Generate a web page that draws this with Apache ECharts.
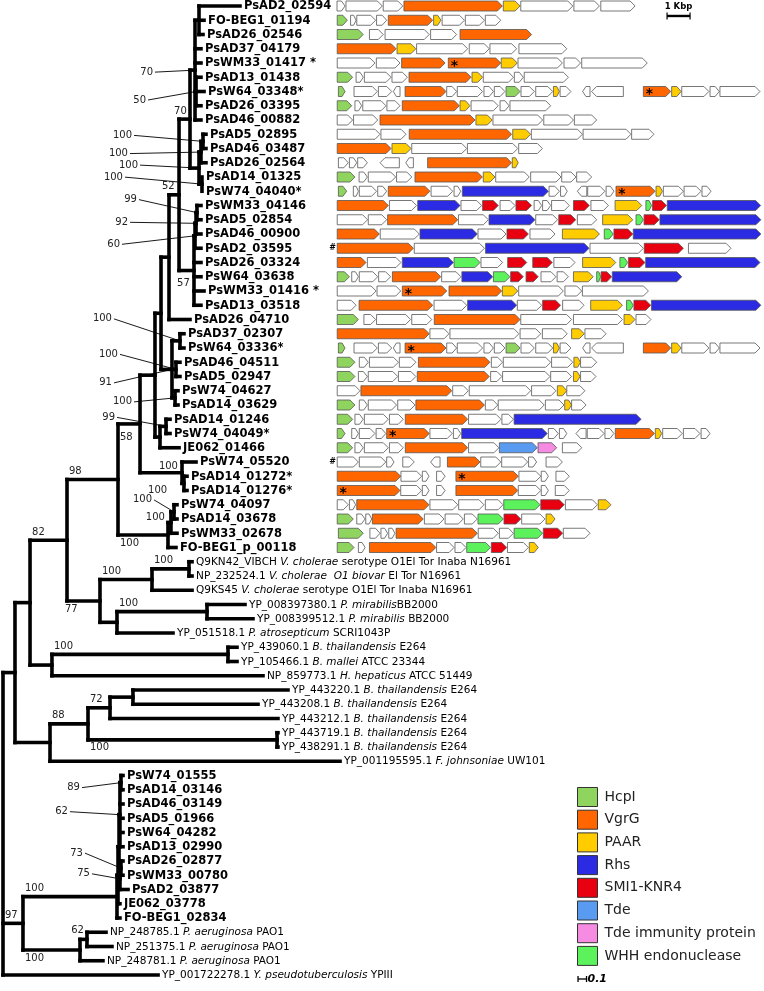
<!DOCTYPE html>
<html><head><meta charset="utf-8">
<script src="https://cdn.jsdelivr.net/npm/echarts@6/dist/echarts.min.js"></script>
<style>html,body{margin:0;padding:0;background:#fff}#c{width:764px;height:991px}</style>
</head><body><div id="c"></div>
<script>
// ---------------- DATA ----------------
const leafNames = [
 'PsAD2_02594','FO-BEG1_01194','PsAD26_02546','PsAD37_04179','PsWM33_01417 *','PsAD13_01438','PsW64_03348*','PsAD26_03395','PsAD46_00882',
 'PsAD5_02895','PsAD46_03487','PsAD26_02564','PsAD14_01325','PsW74_04040*','PsWM33_04146','PsAD5_02854','PsAD46_00900','PsAD2_03595',
 'PsAD26_03324','PsW64_03638','PsWM33_01416 *','PsAD13_03518','PsAD26_04710','PsAD37_02307','PsW64_03336*','PsAD46_04511','PsAD5_02947',
 'PsW74_04627','PsAD14_03629','PsAD14_01246','PsW74_04049*','JE062_01466','PsW74_05520','PsAD14_01272*','PsAD14_01276*','PsW74_04097',
 'PsAD14_03678','PsWM33_02678','FO-BEG1_p_00118',
 'Q9KN42_VIBCH {i|V. cholerae} serotype O1El Tor Inaba N16961',
 'NP_232524.1 {i|V. cholerae  O1 biovar} El Tor N16961',
 'Q9KS45 {i|V. cholerae} serotype O1El Tor Inaba N16961',
 'YP_008397380.1 {i|P. mirabilis}BB2000',
 'YP_008399512.1 {i|P. mirabilis} BB2000',
 'YP_051518.1 {i|P. atrosepticum} SCRI1043P',
 'YP_439060.1 {i|B. thailandensis} E264',
 'YP_105466.1 {i|B. mallei} ATCC 23344',
 'NP_859773.1 {i|H. hepaticus} ATCC 51449',
 'YP_443220.1 {i|B. thailandensis} E264',
 'YP_443208.1 {i|B. thailandensis} E264',
 'YP_443212.1 {i|B. thailandensis} E264',
 'YP_443719.1 {i|B. thailandensis} E264',
 'YP_438291.1 {i|B. thailandensis} E264',
 'YP_001195595.1 {i|F. johnsoniae} UW101',
 'PsW74_01555','PsAD14_03146','PsAD46_03149','PsAD5_01966','PsW64_04282','PsAD13_02990','PsAD26_02877','PsWM33_00780','PsAD2_03877',
 'JE062_03778','FO-BEG1_02834',
 'NP_248785.1 {i|P. aeruginosa} PAO1',
 'NP_251375.1 {i|P. aeruginosa} PAO1',
 'NP_248781.1 {i|P. aeruginosa} PAO1',
 'YP_001722278.1 {i|Y. pseudotuberculosis} YPIII'
];
// tip depth (substitutions / site) of each leaf
const leafDepth = [
 2.788,2.365,2.353,2.329,2.329,2.329,2.365,2.329,2.329,
 2.388,2.388,2.388,2.341,2.341,2.329,2.329,2.329,2.329,
 2.329,2.329,2.365,2.329,2.2,2.129,2.129,2.082,2.082,
 2.059,2.059,1.965,1.965,2.071,2.271,2.165,2.165,2.047,
 2.047,2.047,2.035,
 2.224,2.224,2.224,2.847,2.941,2.0,2.753,2.753,3.059,
 3.353,3.0,3.235,3.235,3.235,3.965,
 1.412,1.412,1.412,1.412,1.412,1.412,1.412,1.412,1.471,1.376,1.376,
 1.212,1.282,1.176,1.824
];
// internal nodes: [id, depth, bootstrap support, children]
const treeNodes = [
 ['T1top',2.306,null,[0,1,2]],
 ['T1c',2.271,50,[5,6,7]],
 ['T1',2.259,70,['T1top',3,4,'T1c',8]],
 ['T2i',2.353,100,[9,10]],
 ['T2a',2.329,100,['T2i',11]],
 ['T2b',2.341,100,[12,13]],
 ['T2',2.306,100,['T2a','T2b']],
 ['N190',2.2,70,['T1','T2']],
 ['X99',2.282,99,[14,15]],
 ['X92',2.271,92,['X99',16]],
 ['X60',2.259,60,['X92',17]],
 ['T3',2.247,57,['X60',18,19,20,21]],
 ['N179',2.071,52,['N190','T3']],
 ['N169',1.953,null,['N179',22]],
 ['P1',2.082,100,[23,24]],
 ['P2',2.035,100,[25,26]],
 ['P3',2.024,100,[27,28]],
 ['N173',1.988,91,['P1','P2','P3']],
 ['N161',1.859,null,['N169','N173']],
 ['P4',1.918,99,[29,30]],
 ['N163',1.847,null,['P4',31]],
 ['N155',1.788,null,['N161','N163']],
 ['Pi',2.129,100,[33,34]],
 ['N182',2.106,100,[32,'Pi']],
 ['N140',1.612,58,['N155','N182']],
 ['B1',2.012,100,[35,36]],
 ['B2',1.976,100,['B1',37]],
 ['N168',1.941,100,['B2',38]],
 ['N118',1.353,98,['N140','N168']],
 ['N189',2.188,100,[39,40]],
 ['N152',1.753,100,['N189',41]],
 ['N207',2.4,100,[42,43]],
 ['N117b',1.341,null,['N207',44]],
 ['N100',1.141,77,['N152','N117b']],
 ['N67',0.753,82,['N118','N100']],
 ['N228',2.647,100,[45,46]],
 ['N52',0.576,null,['N228',47]],
 ['N30',0.318,null,['N67','N52']],
 ['N133',1.529,null,[48,49]],
 ['N110',1.259,72,['N133',50]],
 ['N277',3.224,100,[51,52]],
 ['N88',1.0,88,['N110','N277']],
 ['N50',0.553,null,['N88',53]],
 ['N15',0.141,null,['N30','N50']],
 ['Pa',1.388,89,[54,55]],
 ['Pb',1.376,62,['Pa',56,57,58,59]],
 ['Pc',1.388,73,[60,61]],
 ['Pd',1.376,75,['Pc',62]],
 ['Pe',1.365,null,['Pb','Pd']],
 ['Pf',1.353,null,['Pe',63]],
 ['Pg',1.341,100,['Pf',64]],
 ['N87',0.988,62,[65,66]],
 ['N80',0.906,100,['N87',67]],
 ['N23',0.235,97,['Pg','N80']],
 ['root',0,null,['N15','N23',68]]
];
// gene neighbourhoods, one list per leaf row 0..38: [start kbp, end kbp, type(+ '*' pseudogene mark, '<' reverse)]
const geneRows = [
 [[0,0.35,'n'],[0.39,1.97,'n'],[2.01,2.86,'n'],[2.91,7.19,'V'],[7.23,7.96,'P'],[7.99,10.25,'n'],[10.3,11.41,'n'],[11.47,12.96,'n']],
 [[0.01,0.45,'H'],[0.59,0.83,'n'],[0.86,1.68,'n'],[1.72,2.16,'n'],[2.23,4.16,'V'],[4.2,4.52,'P'],[4.57,5.54,'n'],[5.58,6.41,'n'],[6.45,7.12,'n']],
 [[0.01,1.14,'H'],[1.41,2.01,'n'],[2.09,4.01,'n'],[4.07,5.2,'n'],[5.35,8.46,'V']],
 [[0.01,2.57,'V'],[2.61,3.43,'P'],[3.46,5.68,'n'],[5.75,6.62,'n'],[6.65,7.81,'n'],[7.91,9.99,'n']],
 [[0.01,1.65,'n'],[1.71,2.74,'n'],[2.81,4.7,'V'],[4.84,7.12,'V*'],[7.14,7.84,'P'],[7.87,9.8,'n'],[9.87,10.59,'n'],[10.64,13.49,'n']],
 [[0.01,0.68,'H'],[0.83,1.14,'n'],[1.19,2.35,'n'],[2.39,3.06,'n'],[3.13,5.83,'V'],[5.87,6.33,'P'],[6.36,7.67,'n'],[7.71,8.1,'n'],[8.14,10.06,'n']],
 [[0.06,0.35,'H'],[0.74,1.75,'n'],[1.8,2.38,'n'],[2.45,2.74,'n<'],[2.96,4.74,'V'],[4.77,5.2,'n'],[5.23,6.33,'n'],[6.39,6.8,'n'],[6.84,7.3,'n'],[7.35,7.96,'H'],[8.0,8.58,'n'],[8.64,9.38,'n'],[9.41,9.67,'P'],[9.7,10.17,'n'],[10.68,11.0,'n<'],[11.07,12.45,'n<'],[13.32,14.51,'V*'],[14.55,14.96,'P'],[14.99,16.17,'n'],[16.22,16.62,'n'],[16.65,18.39,'n']],
 [[0.01,0.64,'H'],[0.78,1.07,'n'],[1.12,2.13,'n'],[2.17,2.74,'n'],[2.84,5.32,'V'],[5.35,5.78,'P'],[5.83,7.01,'n'],[7.09,7.48,'n'],[7.52,9.29,'n']],
 [[0.01,0.68,'n'],[0.72,1.77,'n'],[1.87,6.0,'V'],[6.04,6.75,'P'],[6.78,8.94,'n'],[8.99,10.28,'n'],[10.32,11.29,'n']],
 [[0.01,1.87,'n'],[1.91,3.0,'n'],[3.14,7.59,'V'],[7.64,8.42,'P'],[8.45,10.67,'n'],[10.7,12.78,'n'],[12.81,13.78,'n']],
 [[0.01,2.35,'V'],[2.39,3.22,'P'],[3.25,5.64,'n'],[5.67,7.86,'n'],[7.9,8.93,'n']],
 [[0.06,0.49,'n'],[0.54,0.86,'n'],[0.9,1.32,'n'],[1.87,2.71,'n<'],[2.99,3.32,'n<'],[3.94,7.59,'V'],[7.62,7.88,'P']],
 [[0.01,0.78,'H'],[0.96,1.32,'n'],[1.36,2.55,'n'],[2.59,3.25,'n'],[3.39,6.32,'V'],[6.36,6.87,'P'],[6.9,8.36,'n'],[8.42,9.74,'n'],[9.77,10.39,'n'],[10.42,11.07,'n']],
 [[0.06,0.42,'H'],[0.71,0.93,'n'],[0.97,1.72,'n'],[1.77,2.16,'n'],[2.23,4.04,'V'],[4.09,5.03,'n'],[5.09,5.38,'n'],[5.45,9.19,'R'],[9.22,9.67,'n'],[9.72,10.01,'n'],[10.45,10.86,'n<'],[10.9,11.65,'n'],[11.7,12.04,'n'],[12.13,13.83,'V*'],[13.87,14.15,'P'],[14.19,15.06,'n'],[15.09,15.83,'n'],[15.87,16.26,'n']],
 [[0.01,2.23,'V'],[2.28,3.46,'n'],[3.51,5.35,'R'],[5.39,6.29,'n'],[6.33,7.01,'S'],[7.09,7.74,'n'],[7.78,8.46,'S'],[8.57,8.9,'n'],[8.94,9.29,'n'],[9.33,10.1,'n'],[10.28,10.97,'S'],[11.04,11.8,'n'],[12.09,13.25,'P'],[13.43,13.68,'W'],[13.72,14.33,'S'],[14.36,18.42,'R']],
 [[0.01,1.33,'n'],[1.36,2.16,'n'],[2.2,5.25,'V'],[5.28,6.58,'n'],[6.61,8.61,'R'],[8.64,9.59,'n'],[9.64,10.38,'S'],[10.45,11.29,'n'],[11.55,12.86,'P'],[13.0,13.32,'W'],[13.35,14.01,'S'],[14.04,18.43,'R']],
 [[0.01,1.84,'V'],[1.88,3.58,'n'],[3.61,6.1,'R'],[6.13,7.35,'n'],[7.39,8.32,'S'],[8.39,9.48,'n'],[9.8,11.41,'P'],[11.62,12.01,'W'],[12.04,12.86,'S'],[12.88,18.43,'R']],
 [[0.01,3.32,'V'],[3.36,6.41,'n'],[6.46,10.96,'R'],[11.0,13.32,'n'],[13.36,15.06,'S'],[15.28,17.13,'n']],
 [[0.01,1.26,'V'],[1.32,2.78,'n'],[2.84,5.06,'R'],[5.09,6.22,'W'],[6.26,7.2,'n'],[7.42,8.25,'S'],[8.51,9.36,'S'],[9.43,10.35,'n'],[10.68,12.12,'P'],[12.3,12.64,'W'],[12.67,13.39,'S'],[13.42,18.39,'R']],
 [[0.01,0.54,'H'],[0.64,0.93,'n'],[0.97,1.77,'n'],[1.81,2.33,'n'],[2.41,4.51,'V'],[4.55,5.39,'n'],[5.43,6.77,'R'],[6.8,7.52,'W'],[7.55,8.1,'S'],[8.22,8.75,'S'],[8.87,9.52,'n'],[9.57,10.06,'n'],[10.28,11.14,'P'],[11.29,11.46,'W'],[11.48,11.94,'S'],[11.97,14.99,'R']],
 [[0.01,1.7,'n'],[1.74,2.77,'n'],[2.84,4.77,'V*'],[4.87,7.16,'V'],[7.19,7.86,'P'],[7.9,9.84,'n'],[9.91,10.64,'n'],[10.67,13.54,'n']],
 [[0.01,0.83,'n'],[0.96,4.16,'V'],[4.22,5.64,'n'],[5.68,7.81,'R'],[7.84,8.9,'n'],[8.94,9.72,'S'],[9.81,10.74,'n'],[11.03,12.41,'P'],[12.59,12.88,'W'],[12.91,13.64,'S'],[13.67,18.43,'R']],
 [[0.01,0.93,'H'],[1.17,1.68,'n'],[1.72,3.2,'n'],[3.25,4.12,'n'],[4.23,7.96,'V'],[7.99,10.2,'n'],[10.28,12.41,'n'],[12.48,12.96,'P'],[13.0,13.65,'n']],
 [[0.01,4.01,'V'],[4.04,4.87,'n'],[4.91,7.91,'n'],[7.96,8.86,'n'],[8.93,10.01,'n'],[10.2,10.75,'P'],[10.78,11.7,'n']],
 [[0.06,0.35,'H'],[0.74,1.75,'n'],[1.8,2.38,'n'],[2.45,2.74,'n<'],[2.96,4.74,'V*'],[4.77,5.2,'n'],[5.23,6.33,'n'],[6.39,6.8,'n'],[6.84,7.3,'n'],[7.35,7.96,'H'],[8.0,8.58,'n'],[8.64,9.38,'n'],[9.41,9.67,'P'],[9.7,10.17,'n'],[10.68,11.0,'n<'],[11.07,12.45,'n<'],[13.32,14.51,'V'],[14.55,14.96,'P'],[14.99,16.17,'n'],[16.22,16.62,'n'],[16.65,18.39,'n']],
 [[0.01,0.78,'H'],[0.97,1.36,'n'],[1.41,2.67,'n'],[2.71,3.43,'n'],[3.54,6.65,'V'],[6.71,7.2,'n'],[7.23,9.29,'n'],[9.33,10.25,'n'],[10.3,10.59,'P'],[10.59,11.29,'n']],
 [[0.01,0.78,'H'],[0.93,1.32,'n'],[1.36,2.64,'n'],[2.67,3.43,'n'],[3.49,6.62,'V'],[6.68,7.17,'n'],[7.2,9.26,'n'],[9.29,10.2,'n'],[10.28,10.57,'P'],[10.59,11.26,'n']],
 [[0.01,1.0,'n'],[1.04,4.99,'V'],[5.03,5.71,'n'],[5.75,8.42,'n'],[8.46,9.52,'n'],[9.58,9.99,'P'],[9.99,10.78,'n']],
 [[0.01,0.78,'H'],[0.97,1.32,'n'],[1.36,2.59,'n'],[2.64,3.39,'n'],[3.43,6.41,'V'],[6.45,6.99,'n'],[7.01,9.01,'n'],[9.06,9.87,'n'],[9.9,10.2,'P'],[10.2,10.83,'n']],
 [[0.01,0.68,'H'],[0.78,1.14,'n'],[1.19,2.23,'n'],[2.28,2.88,'n'],[2.97,5.68,'V'],[5.72,7.13,'n'],[7.17,7.67,'n'],[7.7,13.22,'R']],
 [[0.01,0.35,'H'],[0.64,0.93,'n'],[0.97,1.65,'n'],[1.7,2.12,'n'],[2.16,4.01,'V*'],[4.04,5.01,'n'],[5.06,5.38,'n'],[5.42,9.14,'R'],[9.19,9.62,'n'],[9.67,9.99,'n'],[10.39,10.83,'n<'],[10.88,11.61,'n'],[11.65,12.04,'n'],[12.1,13.8,'V'],[13.84,14.12,'P'],[14.16,15.01,'n'],[15.06,15.78,'n'],[15.83,16.22,'n']],
 [[0.01,0.68,'H'],[0.78,1.14,'n'],[1.19,2.23,'n'],[2.28,2.88,'n'],[2.97,5.68,'V'],[5.72,7.04,'n'],[7.06,8.71,'T'],[8.74,9.55,'I'],[9.8,10.64,'n']],
 [[0.01,0.93,'n'],[0.97,2.12,'n'],[2.16,2.48,'n'],[2.86,3.36,'n'],[4.07,4.48,'n<'],[4.8,6.22,'V'],[6.25,7.12,'n'],[7.16,8.29,'n'],[8.33,8.68,'n'],[9.09,9.8,'n']],
 [[0.01,2.77,'V'],[2.78,3.68,'n'],[3.71,4.0,'n'],[4.33,4.7,'n'],[5.17,7.88,'V*'],[7.91,8.86,'n'],[8.88,9.19,'n'],[9.52,10.1,'n']],
 [[0.01,2.74,'V*'],[2.77,3.68,'n'],[3.71,4.0,'n'],[4.33,4.7,'n'],[5.17,7.86,'V'],[7.88,8.86,'n'],[8.88,9.19,'n'],[9.49,10.1,'n']],
 [[0.01,0.49,'n'],[0.54,0.81,'n'],[0.86,4.0,'V'],[4.04,5.25,'n'],[5.29,6.39,'n'],[6.45,7.22,'n'],[7.25,8.83,'W'],[8.86,9.88,'S'],[9.93,11.32,'n'],[11.36,11.91,'P']],
 [[0.01,0.71,'H'],[0.86,1.22,'n'],[1.25,1.51,'n'],[1.54,3.75,'V'],[3.8,4.65,'n'],[4.7,5.49,'n'],[5.54,6.1,'n'],[6.13,7.23,'W'],[7.26,7.99,'S'],[8.03,9.04,'n'],[9.09,9.48,'P']],
 [[0.06,1.14,'H'],[1.43,1.87,'n'],[1.91,2.2,'n'],[2.25,2.52,'n'],[2.57,6.1,'V'],[6.14,7.01,'n'],[7.06,7.67,'n'],[7.7,8.94,'W'],[8.97,9.81,'S'],[9.84,11.0,'n']],
 [[0.01,0.74,'H'],[0.93,1.22,'n'],[1.41,4.3,'V'],[4.33,5.09,'n'],[5.13,5.61,'n'],[5.64,6.68,'W'],[6.71,7.38,'S'],[7.41,8.32,'n'],[8.36,8.75,'P']]
];
const hashRows = [17, 32];
const geneTypeCodes = ['H','V','P','R','S','T','I','W'];
const geneTypeNames = ['HcpI','VgrG','PAAR','Rhs','SMI1-KNR4','Tde','Tde immunity protein','WHH endonuclease'];
const treeScaleBar = [0.1];   // substitutions/site
const geneScaleBar = [1];     // kbp

// ---------------- STYLE / LAYOUT ----------------
const FONT = '"DejaVu Sans", Verdana, sans-serif';
const typeColor = {n:'#ffffff',H:'#8fd45e',V:'#ff6600',P:'#ffcc00',R:'#2b2be3',S:'#e80010',T:'#5a9bf2',I:'#f68be2',W:'#5cf25c'};
const boldRanges = [[0,38],[54,64]];
const isBold = i => boldRanges.some(r => i >= r[0] && i <= r[1]);
// support label placement: a = above branch, b = below, lead = with leader line, free = offset text
const supportLayout = {
 T1:{m:'lead',o:[-42,2]}, T1c:{m:'lead',o:[-50,8.5]}, T2i:{m:'lead',o:[-71,-6]}, T2a:{m:'lead',o:[-73,1.5]},
 T2:{m:'lead',o:[-61,-3]}, T2b:{m:'lead',o:[-79,-7]}, N190:{m:'a',o:[-7,0]}, X99:{m:'lead',o:[-60,-13]},
 X92:{m:'lead',o:[-68,-1]}, X60:{m:'lead',o:[-75,8.5]}, T3:{m:'b',o:[-4,5]}, N179:{m:'a',o:[-9,0]},
 P1:{m:'lead',o:[-68,-22]}, P2:{m:'lead',o:[-58,-15]}, N173:{m:'lead',o:[-60,13.5]}, P3:{m:'lead',o:[-43,4]},
 P4:{m:'lead',o:[-51,-9]}, Pi:{m:'free',o:[-6,-17]}, N182:{m:'b',o:[6,10]}, N140:{m:'b',o:[0,5]},
 B1:{m:'lead',o:[-22,-12]}, B2:{m:'free',o:[-6,-5.5]}, N168:{m:'b',o:[0,0]}, N100:{m:'b',o:[-4,0]},
 N277:{m:'b',o:[0,0]}, N80:{m:'b',o:[0,0]}, N87:{m:'free',o:[-3,-9]},
 Pa:{m:'lead',o:[-41,5]}, Pb:{m:'lead',o:[-52,-3]}, Pc:{m:'lead',o:[-38,-15]}, Pd:{m:'lead',o:[-30,-5]}
};

// ---------------- TREE LAYOUT ----------------
const nodeMap = {};
treeNodes.forEach(n => nodeMap[n[0]] = {id:n[0], d:n[1], s:n[2], c:n[3]});
function yOf(ref){
  if (typeof ref === 'number') return ref;
  const n = nodeMap[ref];
  if (n.y === undefined){ const ys = n.c.map(yOf); n.y = (ys[0] + ys[ys.length-1]) / 2; }
  return n.y;
}
const dOf = ref => typeof ref === 'number' ? leafDepth[ref] : nodeMap[ref].d;
const segs = [], supports = [], supportMeta = [];
function walk(id, parentD){
  const n = nodeMap[id];
  const ys = n.c.map(yOf);
  segs.push([n.d, ys[0], n.d, ys[ys.length-1]]);
  n.c.forEach(ch => {
    segs.push([n.d, yOf(ch), dOf(ch), yOf(ch)]);
    if (typeof ch !== 'number') walk(ch, n.d);
  });
  if (n.s != null){
    supportMeta.push({id:id, s:n.s});
    supports.push([n.d, yOf(id), parentD, supportMeta.length-1]);
  }
}
walk('root', 0);

// ---------------- RENDERERS ----------------
function segItem(params, api){
  const a = api.coord([api.value(0), api.value(1)]);
  const b = api.coord([api.value(2), api.value(3)]);
  return {type:'line', shape:{x1:a[0],y1:a[1],x2:b[0],y2:b[1]}, style:{stroke:'#000', lineWidth:3.6, lineCap:'square'}};
}
function leafItem(params, api){
  const i = api.value(2);
  const p = api.coord([api.value(0), api.value(1)]);
  const b = isBold(i);
  return {type:'text', style:{
    text: leafNames[i], x: p[0] + 4, y: p[1] + 0.5, fill:'#000',
    fontFamily: FONT, fontSize: b ? 11.5 : 10.5, fontWeight: b ? 'bold' : 'normal',
    align:'left', textAlign:'left', verticalAlign:'middle', textVerticalAlign:'middle',
    rich:{ i:{fontStyle:'italic', fontFamily:FONT, fontSize:10.5, fill:'#000'} }
  }};
}
function supportItem(params, api){
  const meta = supportMeta[api.value(3)];
  const lay = supportLayout[meta.id] || {m:'a', o:[0,0]};
  const np = api.coord([api.value(0), api.value(1)]);
  const pp = api.coord([api.value(2), api.value(1)]);
  const base = {fill:'#222', fontFamily:FONT, fontSize:10, text:String(meta.s), verticalAlign:'middle', textVerticalAlign:'middle'};
  const ch = [];
  if (lay.m === 'a' || lay.m === 'b'){
    const y = np[1] + (lay.m === 'a' ? -8 : 8) + lay.o[1];
    ch.push({type:'text', style:Object.assign({}, base, {x: pp[0] + 2 + lay.o[0], y: y, align:'left', textAlign:'left'})});
  } else {
    const tx = np[0] + lay.o[0], ty = np[1] + lay.o[1];
    ch.push({type:'text', style:Object.assign({}, base, {x: tx, y: ty, align:'right', textAlign:'right'})});
    if (lay.m === 'lead'){
      ch.push({type:'line', shape:{x1:tx + 2, y1:ty, x2:np[0], y2:np[1]}, style:{stroke:'#000', lineWidth:0.9}});
    }
  }
  return {type:'group', children:ch};
}
const seriesCode = {};
function geneItem(params, api){
  const s = api.coord([api.value(0), api.value(2)]);
  const e = api.coord([api.value(1), api.value(2)]);
  const code = seriesCode[params.seriesIndex];
  const star = api.value(3), dir = api.value(4);
  const h = 10, y = s[1], x0 = s[0], x1 = e[0];
  const tip = Math.min(5, (x1 - x0) * 0.45);
  const pts = dir >= 0
    ? [[x0,y-h/2],[x1-tip,y-h/2],[x1,y],[x1-tip,y+h/2],[x0,y+h/2]]
    : [[x1,y-h/2],[x0+tip,y-h/2],[x0,y],[x0+tip,y+h/2],[x1,y+h/2]];
  const ch = [{type:'polygon', shape:{points:pts}, style:{fill:typeColor[code], stroke:'#555', lineWidth:0.8}}];
  if (star){
    ch.push({type:'text', style:{text:'*', x:x0 + 6, y:y + 3, fill:'#000', fontFamily:FONT, fontSize:14, fontWeight:'bold',
      align:'center', textAlign:'center', verticalAlign:'middle', textVerticalAlign:'middle'}});
  }
  return {type:'group', children:ch};
}

// ---------------- SERIES ----------------
const series = [];
series.push({type:'custom', name:'branches', xAxisIndex:0, yAxisIndex:0, renderItem:segItem, clip:false,
  dimensions:['x1','y1','x2','y2'], encode:{x:[0,2], y:[1,3]}, data:segs, silent:true});
series.push({type:'custom', name:'leaves', xAxisIndex:0, yAxisIndex:0, renderItem:leafItem, clip:false,
  encode:{x:0, y:1}, data:leafDepth.map((d,i) => [d, i, i]), silent:true});
series.push({type:'custom', name:'support', xAxisIndex:0, yAxisIndex:0, renderItem:supportItem, clip:false,
  encode:{x:[0,2], y:1}, data:supports, silent:true});
['n'].concat(geneTypeCodes).forEach(code => {
  const data = [];
  geneRows.forEach((row, r) => row.forEach(g => {
    if (g[2][0] === code) data.push([g[0], g[1], r, g[2].indexOf('*') >= 0 ? 1 : 0, g[2].indexOf('<') >= 0 ? -1 : 1]);
  }));
  seriesCode[series.length] = code;
  const idx = geneTypeCodes.indexOf(code);
  series.push({type:'custom', name: idx >= 0 ? geneTypeNames[idx] : 'other', xAxisIndex:1, yAxisIndex:1, clip:false,
    renderItem:geneItem, encode:{x:[0,1], y:2}, data:data, itemStyle:{color:typeColor[code]}, silent:true});
});
// '#' markers
series.push({type:'custom', name:'hash', xAxisIndex:1, yAxisIndex:1, silent:true, clip:false, encode:{x:0,y:1},
  data:hashRows.map(r => [0, r]),
  renderItem:(p, api) => { const c = api.coord([api.value(0), api.value(1)]);
    return {type:'text', style:{text:'#', x:c[0]-1, y:c[1], fill:'#000', fontFamily:FONT, fontSize:8, fontWeight:'bold',
      align:'right', textAlign:'right', verticalAlign:'middle', textVerticalAlign:'middle'}}; }});
// 1 Kbp scale bar
series.push({type:'custom', name:'kbpScale', xAxisIndex:1, yAxisIndex:1, silent:true, clip:false, encode:{x:0,y:1},
  data:[[14.35, 0.7, geneScaleBar[0]]],
  renderItem:(p, api) => { const a = api.coord([api.value(0), api.value(1)]), b = api.coord([api.value(0) + api.value(2), api.value(1)]);
    return {type:'group', children:[
      {type:'line', shape:{x1:a[0],y1:a[1],x2:b[0],y2:b[1]}, style:{stroke:'#000', lineWidth:2.4}},
      {type:'line', shape:{x1:a[0],y1:a[1]-3.5,x2:a[0],y2:a[1]+3.5}, style:{stroke:'#000', lineWidth:1.2}},
      {type:'line', shape:{x1:b[0],y1:b[1]-3.5,x2:b[0],y2:b[1]+3.5}, style:{stroke:'#000', lineWidth:1.2}},
      {type:'text', style:{text:geneScaleBar[0] + ' Kbp', x:(a[0]+b[0])/2, y:a[1]-9, fill:'#000', fontFamily:FONT, fontSize:8.5, fontWeight:'bold',
        align:'center', textAlign:'center', verticalAlign:'middle', textVerticalAlign:'middle'}}
    ]}; }});
// tree scale bar
series.push({type:'custom', name:'treeScale', xAxisIndex:0, yAxisIndex:0, silent:true, clip:false, encode:{x:0,y:1},
  data:[[6.765, 68.28, treeScaleBar[0]]],
  renderItem:(p, api) => { const a = api.coord([api.value(0), api.value(1)]), b = api.coord([api.value(0) + api.value(2), api.value(1)]);
    return {type:'group', children:[
      {type:'line', shape:{x1:a[0],y1:a[1],x2:b[0],y2:b[1]}, style:{stroke:'#000', lineWidth:1.3}},
      {type:'line', shape:{x1:a[0],y1:a[1]-3,x2:a[0],y2:a[1]+3}, style:{stroke:'#000', lineWidth:1.3}},
      {type:'line', shape:{x1:b[0],y1:b[1]-3,x2:b[0],y2:b[1]+3}, style:{stroke:'#000', lineWidth:1.3}},
      {type:'text', style:{text:String(treeScaleBar[0]), x:b[0]+1, y:b[1]+0.5, fill:'#000', fontFamily:FONT, fontSize:11, fontWeight:'bold', fontStyle:'italic',
        align:'left', textAlign:'left', verticalAlign:'middle', textVerticalAlign:'middle'}}
    ]}; }});

const yAx = {type:'value', min:0, max:68, inverse:true, show:false};
const option = {
  animation:false,
  backgroundColor:'#ffffff',
  grid:[
    {left:3, top:6, width:761, height:969},
    {left:337, top:6, width:427, height:969}
  ],
  xAxis:[
    {type:'value', gridIndex:0, min:0, max:761/85, show:false},
    {type:'value', gridIndex:1, min:0, max:427/23, show:false}
  ],
  yAxis:[Object.assign({gridIndex:0}, yAx), Object.assign({gridIndex:1}, yAx)],
  legend:{
    data:geneTypeNames, orient:'vertical', left:577, top:787, padding:0, icon:'rect',
    itemWidth:20, itemHeight:19, itemGap:2.7, selectedMode:false,
    itemStyle:{borderColor:'#333', borderWidth:1},
    textStyle:{fontFamily:FONT, fontSize:14, color:'#222', padding:[0,0,0,2]}
  },
  series:series
};
const chart = echarts.init(document.getElementById('c'), null, {width:764, height:991});
chart.setOption(option);
</script></body></html>
